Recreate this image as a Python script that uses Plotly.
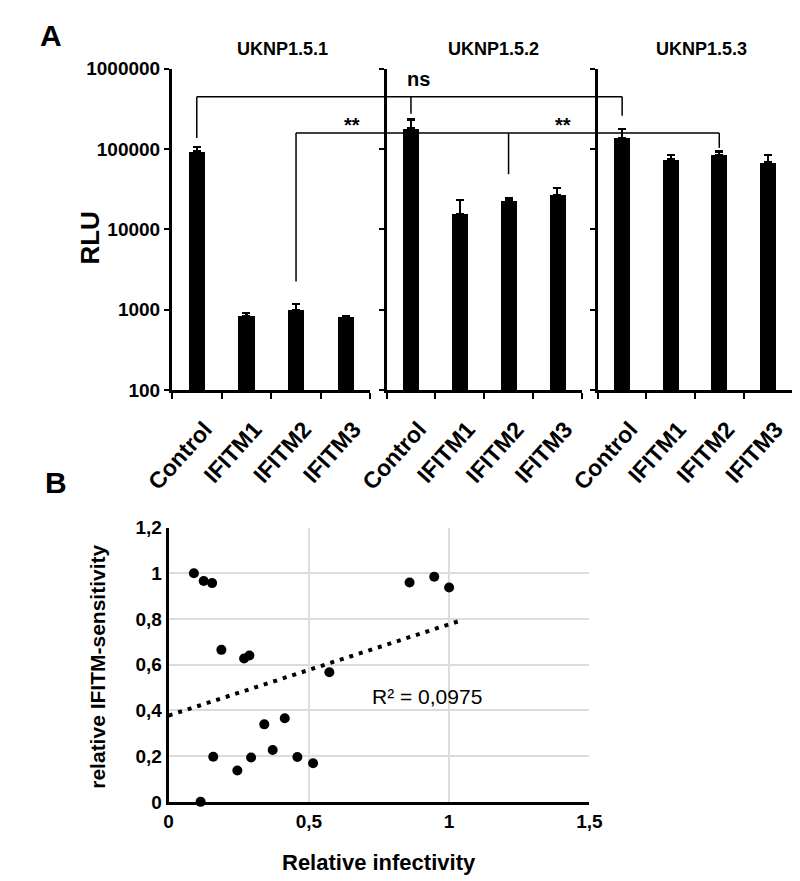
import numpy as np
import plotly.graph_objects as go

W, H = 800, 881

# ---------------- Panel A data ----------------
categories = ["Control", "IFITM1", "IFITM2", "IFITM3"]
strains = ["UKNP1.5.1", "UKNP1.5.2", "UKNP1.5.3"]
rlu_151 = [93000, 840, 1000, 815]
rlu_152 = [181000, 15600, 23000, 27000]
rlu_153 = [137000, 74600, 85000, 68000]
err_151 = [14000, 70, 180, 20]
err_152 = [52000, 7400, 1500, 6000]
err_153 = [39000, 10400, 8000, 17000]
rlu_tickvals = [100, 1000, 10000, 100000, 1000000]
rlu_ticktext = ["100", "1000", "10000", "100000", "1000000"]

# significance brackets (label, bracket level, category, leg end per panel)
sig_labels = ["ns", "**"]
sig_level = [448000, 158000]
sig_category = ["Control", "IFITM2"]
sig_leg_ends = [[137000, 275000, 260000], [2240, 48600, 103500]]

# ---------------- Panel B data ----------------
rel_infectivity = [0.090, 0.125, 0.155, 0.188, 0.269, 0.288, 0.573, 0.859, 0.947, 1.000,
                   0.114, 0.159, 0.245, 0.294, 0.341, 0.371, 0.414, 0.459, 0.515]
rel_sensitivity = [1.000, 0.966, 0.957, 0.665, 0.627, 0.640, 0.567, 0.960, 0.985, 0.938,
                   0.000, 0.197, 0.137, 0.194, 0.339, 0.227, 0.366, 0.196, 0.169]
r2_text = "R² = 0,0975"
trend_x_span = [0.0, 1.04]
xb_tickvals = [0, 0.5, 1, 1.5]
xb_ticktext = ["0", "0,5", "1", "1,5"]
yb_tickvals = [0, 0.2, 0.4, 0.6, 0.8, 1.0, 1.2]
yb_ticktext = ["0", "0,2", "0,4", "0,6", "0,8", "1", "1,2"]

FONT = "Liberation Sans, Arial, sans-serif"


def px_x(p):
    return p / W


def px_y(p):
    return 1 - p / H


# layout geometry (pixels)
xdom_A = [(143.5, 353), (370, 576), (593, 798)]
ydom_A = (52, 381)
xdom_B = (140, 584)
ydom_B = (522, 803)
LOG_RANGE = [2, 6]

fig = go.Figure()

series = [rlu_151, rlu_152, rlu_153]
errs = [err_151, err_152, err_153]
for i in range(3):
    sfx = "" if i == 0 else str(i + 1)
    fig.add_trace(go.Bar(
        x=categories, y=series[i], width=0.33,
        marker=dict(color="black", line=dict(width=0)),
        error_y=dict(type="data", symmetric=False, array=errs[i],
                     arrayminus=[0] * 4, color="black", thickness=2.2, width=4),
        xaxis="x" + sfx, yaxis="y" + sfx, showlegend=False,
    ))

# Panel B scatter + trend
coef = np.polyfit(rel_infectivity, rel_sensitivity, 1)
tx = np.array(trend_x_span)
ty = np.polyval(coef, tx)
fig.add_trace(go.Scatter(
    x=tx, y=ty, mode="lines",
    line=dict(color="black", width=4, dash="4px,6px"),
    xaxis="x4", yaxis="y4", showlegend=False, cliponaxis=False,
))
fig.add_trace(go.Scatter(
    x=rel_infectivity, y=rel_sensitivity, mode="markers",
    marker=dict(color="black", size=10),
    xaxis="x4", yaxis="y4", showlegend=False, cliponaxis=False,
))

layout = dict(
    width=W, height=H,
    margin=dict(l=0, r=0, t=0, b=0),
    paper_bgcolor="white", plot_bgcolor="white",
    font=dict(family=FONT, color="black"),
    bargap=0,
)

ydomA = [px_y(ydom_A[1]), px_y(ydom_A[0])]
for i in range(3):
    sfx = "" if i == 0 else str(i + 1)
    layout["xaxis" + sfx] = dict(
        domain=[px_x(xdom_A[i][0]), px_x(xdom_A[i][1])],
        anchor="y" + sfx, type="category", categoryorder="array",
        categoryarray=categories, range=[-0.5, 3.5],
        showline=True, linecolor="black", linewidth=2.5,
        ticks="outside", tickson="boundaries", ticklen=6, tickwidth=2,
        tickcolor="black", tickangle=-48, ticklabelstandoff=14,
        ticklabelshift=8,
        tickfont=dict(family=FONT, size=23, color="black", weight="bold"),
        showgrid=False, zeroline=False, fixedrange=True,
    )
    layout["yaxis" + sfx] = dict(
        domain=ydomA, anchor="x" + sfx, type="log", range=LOG_RANGE,
        showline=True, linecolor="black", linewidth=3,
        ticks="outside", ticklen=5, tickwidth=2, tickcolor="black",
        tickvals=rlu_tickvals, ticktext=rlu_ticktext,
        showticklabels=(i == 0),
        tickfont=dict(family=FONT, size=19, color="black", weight="bold"),
        showgrid=False, zeroline=False, fixedrange=True,
    )

layout["xaxis4"] = dict(
    domain=[px_x(xdom_B[0]), px_x(xdom_B[1])], anchor="y4",
    range=[0, 1.5], tickvals=xb_tickvals, ticktext=xb_ticktext,
    showline=True, linecolor="black", linewidth=3, ticks="",
    showgrid=True, gridcolor="#dcdcdc", gridwidth=2, zeroline=False,
    tickfont=dict(family=FONT, size=19, color="black", weight="bold"),
    fixedrange=True,
)
layout["yaxis4"] = dict(
    domain=[px_y(ydom_B[1]), px_y(ydom_B[0])], anchor="x4",
    range=[0, 1.2], tickvals=yb_tickvals, ticktext=yb_ticktext,
    showline=True, linecolor="black", linewidth=3, ticks="",
    showgrid=True, gridcolor="#dcdcdc", gridwidth=2, zeroline=False,
    tickfont=dict(family=FONT, size=19, color="black", weight="bold"),
    fixedrange=True,
)
fig.update_layout(**layout)


def cat_paper_x(panel, cat):
    d0, d1 = xdom_A[panel]
    idx = categories.index(cat)
    return px_x(d0 + (idx + 0.5) / len(categories) * (d1 - d0))


def rlu_paper_y(v):
    frac = (np.log10(v) - LOG_RANGE[0]) / (LOG_RANGE[1] - LOG_RANGE[0])
    y0, y1 = px_y(ydom_A[1]), px_y(ydom_A[0])
    return y0 + frac * (y1 - y0)


# Significance brackets
shapes = []
for k in range(len(sig_labels)):
    lvl = rlu_paper_y(sig_level[k])
    xs = [cat_paper_x(p, sig_category[k]) for p in range(3)]
    shapes.append(dict(type="line", xref="paper", yref="paper", x0=xs[0], x1=xs[2],
                       y0=lvl, y1=lvl, line=dict(color="black", width=1.5)))
    for p in range(3):
        shapes.append(dict(type="line", xref="paper", yref="paper", x0=xs[p], x1=xs[p],
                           y0=lvl, y1=rlu_paper_y(sig_leg_ends[k][p]),
                           line=dict(color="black", width=1.5)))
fig.update_layout(shapes=shapes)


def label(text, cx, cy, size, bold=True, angle=0):
    return dict(text=text, x=px_x(cx), y=px_y(cy), xref="paper", yref="paper",
                showarrow=False, xanchor="center", yanchor="middle", textangle=angle,
                font=dict(family=FONT, size=size, color="black",
                          weight="bold" if bold else "normal"))


ann = []
for name, cx in zip(strains, [260, 483, 702]):
    ann.append(label(name, cx, 32, 18))
for t, cx, cy in [("ns", 404, 63), ("**", 333, 110), ("**", 556, 110)]:
    ann.append(label(t, cx, cy, 20))
ann.append(label("A", 16, 18, 30))
ann.append(label("B", 21, 476, 30))
ann.append(label("RLU", 57, 226, 26, angle=-90))
ann.append(label("relative IFITM-sensitivity", 65, 665, 21, angle=-90))
ann.append(label("Relative infectivity", 362, 865, 22))
ann.append(dict(text=r2_text, x=0.92, y=0.46, xref="x4", yref="y4",
                showarrow=False, xanchor="center", yanchor="middle",
                font=dict(family=FONT, size=21, color="black")))
fig.update_layout(annotations=ann)

fig.write_html("out.html")
